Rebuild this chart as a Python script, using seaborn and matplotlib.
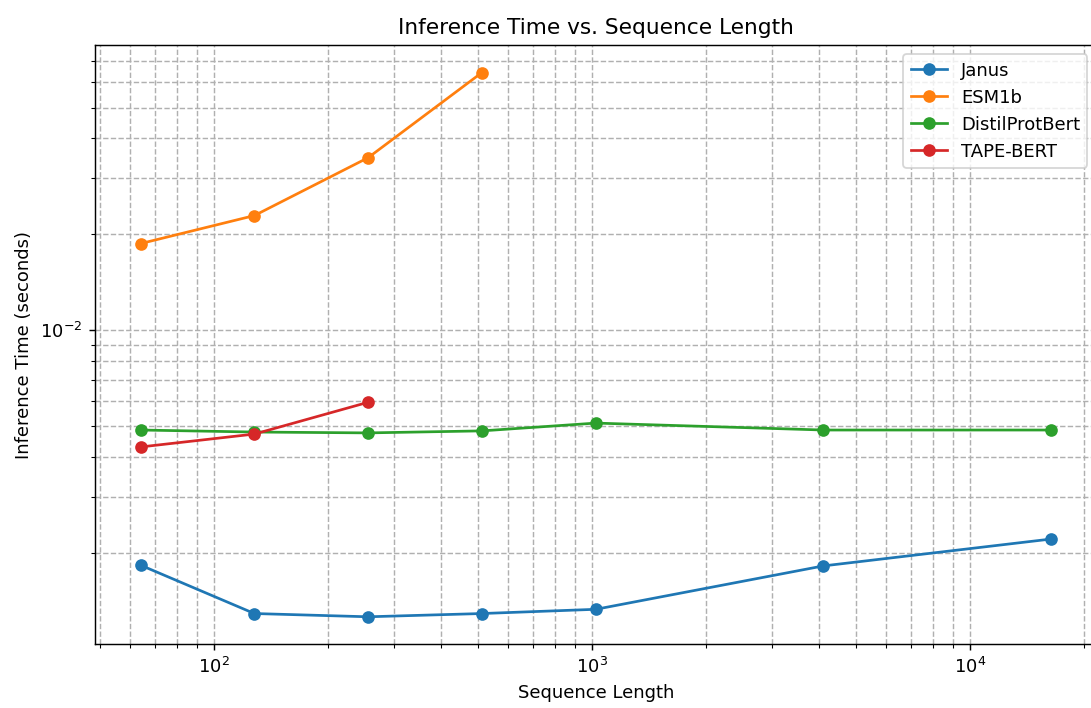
import pandas as pd
import matplotlib
matplotlib.use("Agg")
import matplotlib.pyplot as plt
import seaborn as sns

# sequence lengths
seq_len = [64, 128, 256, 512, 1024, 4096, 16384]

# inference times (seconds)
janus = [1.83e-3, 1.29e-3, 1.26e-3, 1.29e-3, 1.33e-3, 1.82e-3, 2.21e-3]
esm1b = [1.87e-2, 2.29e-2, 3.48e-2, 6.44e-2]
distil = [4.86e-3, 4.79e-3, 4.76e-3, 4.83e-3, 5.11e-3, 4.86e-3, 4.86e-3]
tape = [4.30e-3, 4.72e-3, 5.94e-3]

modelos = ["Janus", "ESM1b", "DistilProtBert", "TAPE-BERT"]
valores = [janus, esm1b, distil, tape]
cores = sns.color_palette("tab10")[:4]

fig, ax = plt.subplots(figsize=(1091 / 130, 708 / 130), dpi=130)
# axes run a bit past the right edge, as in the cropped original
fig.subplots_adjust(left=0.0871, right=1.005, top=0.936, bottom=0.0904)

for nome, vals, cor in zip(modelos, valores, cores):
    df = pd.DataFrame({"len": seq_len[:len(vals)], "t": vals})
    sns.lineplot(data=df, x="len", y="t", ax=ax, label=nome, color=cor,
                 marker="o", markersize=7, markeredgewidth=0, linewidth=1.5)

ax.set_xscale("log")
ax.set_yscale("log")
ax.grid(True, which="both", linestyle="--", color="#b0b0b0", linewidth=0.8)
ax.set_title("Inference Time vs. Sequence Length")
ax.set_xlabel("Sequence Length")
ax.set_ylabel("Inference Time (seconds)")
ax.legend(loc="upper right")

fig.savefig("out.png", dpi=130)
